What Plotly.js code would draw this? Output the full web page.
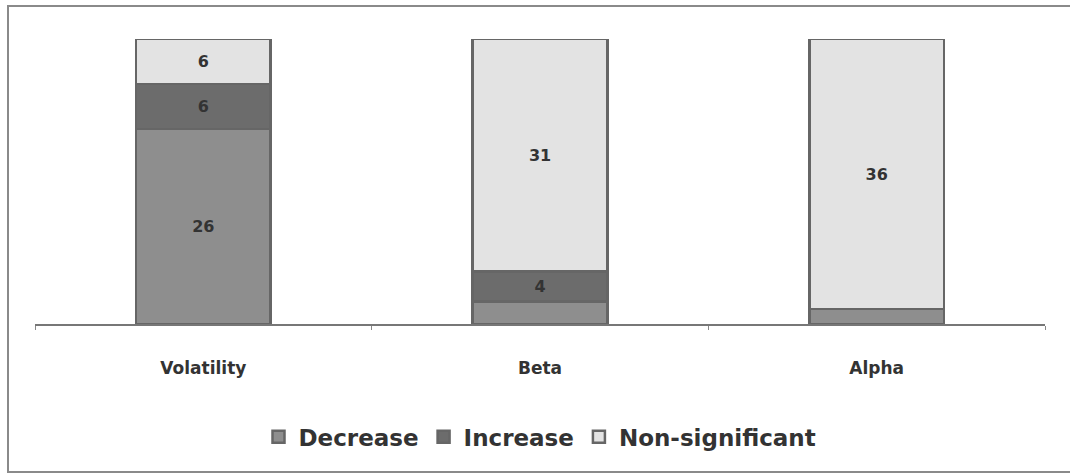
<!DOCTYPE html>
<html>
<head>
<meta charset="utf-8">
<script src="https://cdn.plot.ly/plotly-3.0.1.min.js"></script>
<style>
html,body{margin:0;padding:0;background:#fff;}
#wrap{position:relative;width:1070px;height:474px;}
#frame{position:absolute;left:7px;top:5px;width:1070px;height:464px;border-left:2px solid #8a8a8a;border-top:2px solid #8a8a8a;border-bottom:2px solid #8a8a8a;pointer-events:none;}
#chart{position:absolute;left:0;top:0;width:1070px;height:474px;}
</style>
</head>
<body>
<div id="wrap"><div id="chart"></div><div id="frame"></div></div>
<script>
const categories = ['Volatility', 'Beta', 'Alpha'];
const decrease = [26, 3, 2];
const increase = [6, 4, 0];
const nonSignificant = [6, 31, 36];
const seriesNames = ['Decrease', 'Increase', 'Non-significant'];

function labels(vals){ return vals.map(v => v >= 4 ? String(v) : ''); }

const colors = ['#8e8e8e', '#6c6c6c', '#e3e3e3'];
const series = [decrease, increase, nonSignificant];
const FONT = '"DejaVu Sans", Lato, sans-serif';

const traces = series.map((vals, i) => ({
  type: 'bar',
  name: seriesNames[i],
  x: categories,
  y: vals,
  text: labels(vals),
  textposition: 'inside',
  insidetextanchor: 'middle',
  textangle: 0,
  textfont: {family: FONT, size: 16, color: '#333', weight: 'bold'},
  marker: {color: colors[i], line: {color: '#666', width: 2.5}},
  hoverinfo: 'x+y+name'
}));

const layout = {
  width: 1070, height: 474,
  margin: {l: 35, r: 25, t: 39, b: 150},
  barmode: 'stack',
  bargap: 0.6,
  paper_bgcolor: '#fff',
  plot_bgcolor: '#fff',
  font: {family: FONT, color: '#333'},
  xaxis: {
    showline: true, linecolor: '#777', linewidth: 1.5,
    ticks: 'outside', tickson: 'boundaries', ticklen: 4, tickcolor: '#888',
    tickfont: {family: FONT, size: 17, color: '#333', weight: 'bold'},
    ticklabelstandoff: 28,
    showgrid: false
  },
  yaxis: {range: [0, 38], visible: false, showgrid: false},
  showlegend: true,
  legend: {
    orientation: 'h', x: 0.5, xanchor: 'center', y: -0.32, yanchor: 'top',
    traceorder: 'normal',
    font: {family: FONT, size: 23, color: '#333', weight: 'bold'},
    itemwidth: 30, tracegroupgap: 0
  }
};

Plotly.newPlot('chart', traces, layout, {displayModeBar: false, staticPlot: true});
</script>
</body>
</html>
